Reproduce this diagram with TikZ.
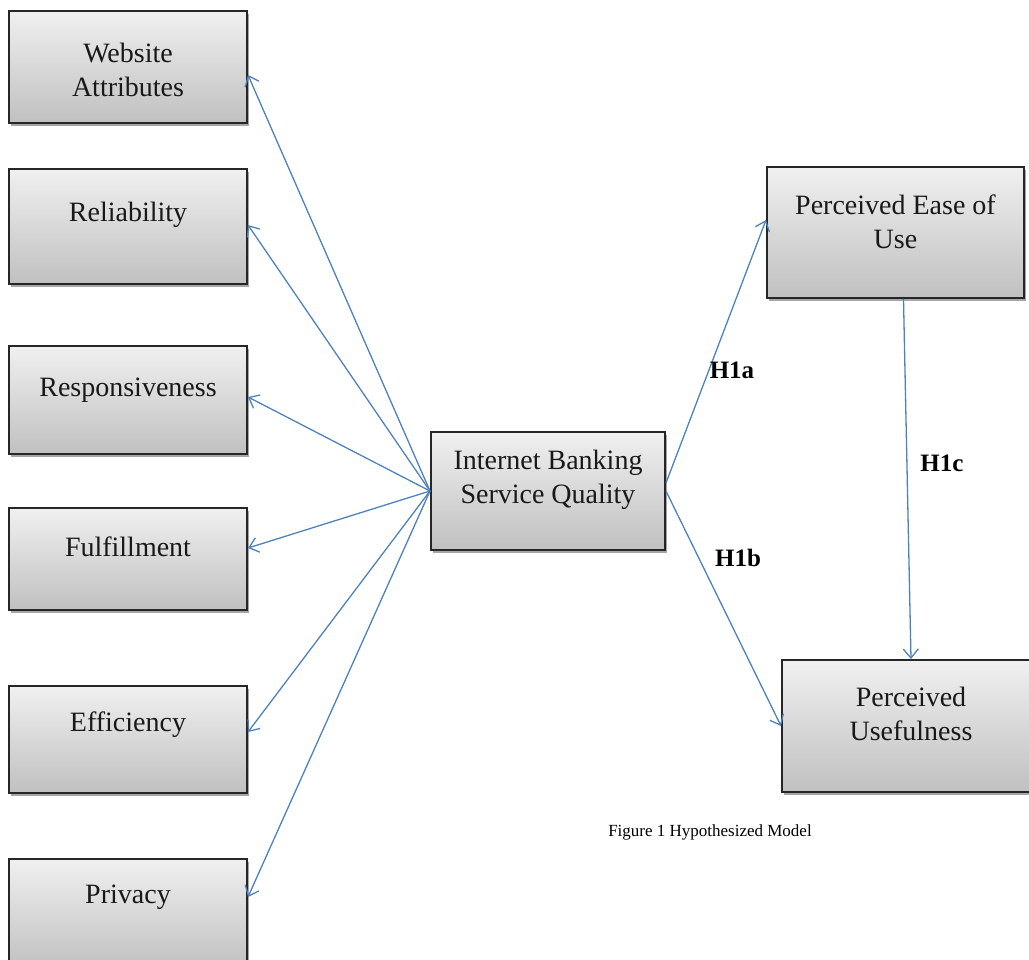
\documentclass[tikz,border=0pt]{standalone}
\usepackage{fontspec}
\setmainfont{Liberation Serif}
\usetikzlibrary{arrows.meta,shadows}
\definecolor{linkblue}{RGB}{79,129,189}
\definecolor{boxtop}{RGB}{240,240,240}
\definecolor{boxbottom}{RGB}{192,192,192}
\begin{document}
\begin{tikzpicture}[x=1pt,y=-1pt,
  factor/.style={rectangle,draw=black!85,line width=2pt,inner sep=0pt,
    top color=boxtop,bottom color=boxbottom,
    drop shadow={shadow xshift=2pt,shadow yshift=-3pt,opacity=0.35,fill=black}},
  boxtext/.style={font=\fontsize{28}{34}\selectfont,align=center,inner sep=0pt,text=black!90},
  link/.style={draw=linkblue,line width=1.3pt,-{Straight Barb[length=9pt,width=15pt]}},
  hyp/.style={font=\fontsize{25}{28}\selectfont\bfseries,inner sep=0pt},
  caption/.style={font=\fontsize{17}{21}\selectfont,inner sep=0pt},
]
\useasboundingbox (0,0) rectangle (1029,960);

% dimension boxes on the left
\node[factor,minimum width=238,minimum height=112] (wa) at (128,67) {};
\node[factor,minimum width=238,minimum height=115] (rl) at (128,226.5) {};
\node[factor,minimum width=238,minimum height=108] (rs) at (128,400) {};
\node[factor,minimum width=238,minimum height=102] (ff) at (128,559) {};
\node[factor,minimum width=238,minimum height=107] (ef) at (128,739.5) {};
\node[factor,minimum width=238,minimum height=110] (pv) at (128,914) {};

% central construct and outcomes
\node[factor,minimum width=234,minimum height=118] (ib) at (548,491) {};
\node[factor,minimum width=257,minimum height=131] (pe) at (895.5,232.5) {};
\node[factor,minimum width=258,minimum height=132] (pu) at (911,726) {};

% box labels, set slightly above the box centres
\node[boxtext] (wal) at ([yshift=-3pt]wa.center) {Website\\Attributes};
\node[boxtext] (rll) at ([yshift=12pt]rl.center) {Reliability};
\node[boxtext] (rsl) at ([yshift=10pt]rs.center) {Responsiveness};
\node[boxtext] (ffl) at ([yshift=12pt]ff.center) {Fulfillment};
\node[boxtext] (efl) at ([yshift=15pt]ef.center) {Efficiency};
\node[boxtext] (pvl) at ([yshift=17pt]pv.center) {Privacy};
\node[boxtext] (ibl) at ([yshift=11pt]ib.center) {Internet Banking\\Service Quality};
\node[boxtext] (pel) at ([yshift=11pt]pe.center) {Perceived Ease of\\Use};
\node[boxtext] (pul) at ([yshift=12pt]pu.center) {Perceived\\Usefulness};

% connectors
\draw[link] (ib.west) -- (wa.east |- 0,75);
\draw[link] (ib.west) -- (rl.east |- 0,225);
\draw[link] (ib.west) -- (rs.east |- 0,397);
\draw[link] (ib.west) -- (ff.east |- 0,548);
\draw[link] (ib.west) -- (ef.east |- 0,732);
\draw[link] (ib.west) -- (pv.east |- 0,897);
\draw[link] ([yshift=8pt]ib.east) -- (pe.west |- 0,220);
\draw[link] (ib.east) -- (pu.west);
\draw[link] ([xshift=8pt]pe.south) -- (pu.north);

% hypothesis labels
\node[hyp] (h1a) at (732,370) {H1a};
\node[hyp] (h1b) at (738,558) {H1b};
\node[hyp] (h1c) at (942,463) {H1c};

\node[caption] (cap) at (710,832) {Figure 1 Hypothesized Model};
\end{tikzpicture}
\end{document}
